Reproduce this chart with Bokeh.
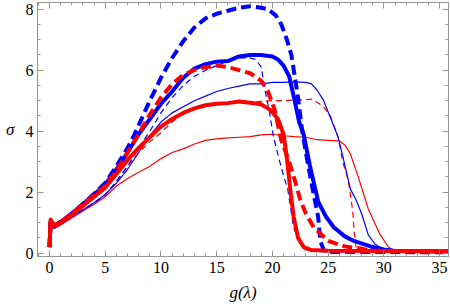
from bokeh.plotting import figure
from bokeh.models import LinearAxis, FixedTicker, Range1d
from bokeh.embed import file_html
from bokeh.resources import INLINE

# ---------------- data ----------------
x_major = [0, 5, 10, 15, 20, 25, 30, 35]
x_minor = list(range(-1, 37))
y_major = [0, 2, 4, 6, 8]
y_minor = [i * 0.5 for i in range(0, 17)]

# thick blue dashed
bd_thick_x = [0, 0.1, 0.4, 1, 2, 3, 4, 5, 6, 7, 7.5, 8, 9, 10, 11, 12, 13, 14, 15, 16, 17, 18, 19, 19.6,
              20.3, 20.8, 21.3, 21.7, 22.0, 22.3, 22.6, 23.0, 23.5, 24.1, 24.3, 24.6, 25, 36]
bd_thick_y = [0.2, 1.05, 0.9, 1.02, 1.3, 1.62, 1.95, 2.3, 2.85, 3.45, 3.8, 4.2, 5.0, 5.75, 6.4, 6.95, 7.4, 7.7,
              7.85, 7.95, 8.05, 8.1, 8.05, 8.0, 7.8, 7.5, 7.0, 6.5, 5.8, 5.1, 4.2, 3.3, 2.3, 1.2, 0.4, 0.1, 0.04, 0.03]

# thick blue solid
bs_thick_x = [0, 0.1, 0.4, 1, 2, 3, 4, 5, 6, 7, 8, 9, 10, 11, 12, 13, 14, 15, 16, 17, 18, 19, 20, 20.5, 21,
              21.5, 22, 22.4, 22.8, 23.4, 24.1, 24.8, 25.5, 26.5, 27.3, 28.8, 30, 31, 36]
bs_thick_y = [0.2, 1.05, 0.9, 1.02, 1.3, 1.6, 1.92, 2.25, 2.75, 3.3, 3.9, 4.4, 4.9, 5.3, 5.75, 6.05, 6.2, 6.28,
              6.3, 6.45, 6.5, 6.5, 6.45, 6.35, 6.15, 5.8, 5.0, 4.3, 3.9, 2.8, 1.7, 1.2, 0.85, 0.55, 0.4, 0.22,
              0.12, 0.07, 0.05]

# thin blue solid
bs_thin_x = [0, 0.1, 0.4, 1, 2, 3, 4, 5, 6, 7, 8, 9, 10, 11, 12, 13, 14, 15, 16, 17, 18, 19, 20, 21, 22, 23,
             23.5, 24, 24.6, 25.2, 25.9, 26.3, 27, 27.5, 28, 28.6, 29.2, 29.8, 30.5, 36]
bs_thin_y = [0.2, 1.0, 0.82, 0.95, 1.2, 1.42, 1.65, 1.92, 2.3, 2.75, 3.3, 3.85, 4.3, 4.6, 4.8, 5.0, 5.15, 5.3,
             5.4, 5.48, 5.55, 5.55, 5.6, 5.6, 5.62, 5.6, 5.55, 5.35, 5.0, 4.45, 3.8, 3.2, 2.1, 1.75, 1.3, 0.6,
             0.3, 0.15, 0.06, 0.04]

# thin blue dashed
bd_thin_x = [0, 0.1, 0.4, 1, 2, 3, 4, 5, 6, 7, 8, 9, 10, 11, 12, 13, 14, 15, 16, 17, 18, 18.5, 19, 19.3,
             19.7, 20.1, 20.8, 21.4, 21.9, 22.5, 23, 24, 36]
bd_thin_y = [0.2, 1.0, 0.82, 0.95, 1.2, 1.42, 1.65, 1.92, 2.35, 2.85, 3.45, 4.0, 4.6, 5.1, 5.5, 5.8, 6.0, 6.15,
             6.3, 6.4, 6.4, 6.35, 6.1, 5.4, 4.7, 3.8, 2.8, 2.05, 0.85, 0.3, 0.1, 0.05, 0.04]

# thick red dashed
rd_thick_x = [0, 0.1, 0.4, 1, 2, 3, 4, 5, 6, 7, 8, 9, 10, 11, 12, 13, 14, 15, 16, 17, 18, 19, 19.6, 20.2,
              20.8, 21.5, 22.0, 22.5, 23, 23.7, 25, 26.5, 28, 28.7, 36]
rd_thick_y = [0.2, 1.1, 0.9, 1.02, 1.3, 1.6, 1.9, 2.2, 2.7, 3.3, 3.9, 4.55, 5.1, 5.55, 5.85, 6.0, 6.1, 6.15,
              6.1, 6.0, 5.9, 5.65, 5.3, 4.7, 3.7, 3.0, 2.4, 1.75, 1.3, 0.85, 0.4, 0.22, 0.15, 0.08, 0.05]

# thick red solid
rs_thick_x = [0, 0.1, 0.4, 1, 2, 3, 4, 5, 6, 7, 8, 9, 10, 11, 12, 13, 14, 15, 16, 17, 18, 19, 19.8, 20.5,
              21, 21.3, 21.6, 21.9, 22.3, 22.8, 23.5, 25, 36]
rs_thick_y = [0.2, 1.1, 0.88, 1.0, 1.27, 1.55, 1.85, 2.15, 2.6, 3.05, 3.45, 3.8, 4.15, 4.4, 4.6, 4.75, 4.85,
              4.9, 4.92, 4.97, 4.93, 4.88, 4.7, 4.4, 3.9, 3.1, 2.1, 1.2, 0.5, 0.2, 0.1, 0.08, 0.07]

# thin red dashed
rd_thin_x = [0, 0.1, 0.4, 1, 2, 3, 4, 5, 6, 7, 8, 9, 10, 11, 12, 13, 14, 15, 16, 17, 18, 19, 20, 21, 22, 23,
             23.5, 24, 24.6, 25.2, 25.9, 26.3, 26.8, 27.2, 27.35, 27.5, 28, 36]
rd_thin_y = [0.2, 1.0, 0.82, 0.95, 1.2, 1.42, 1.65, 1.9, 2.35, 2.85, 3.3, 3.65, 3.95, 4.3, 4.6, 4.75, 4.85,
             4.9, 4.92, 4.95, 4.95, 4.98, 5.0, 5.0, 5.02, 5.03, 5.05, 4.95, 4.8, 4.5, 3.8, 3.0, 2.4, 1.4, 0.65,
             0.2, 0.08, 0.05]

# thin red solid
rs_thin_x = [0, 0.1, 0.4, 1, 2, 3, 4, 5, 6, 7, 8, 9, 10, 11, 12, 13, 14, 15, 16, 17, 18, 19, 20, 21, 22, 23,
             24, 25, 26, 26.5, 27, 27.7, 28.6, 29.6, 30.4, 31, 36]
rs_thin_y = [0.2, 0.98, 0.8, 0.92, 1.15, 1.38, 1.6, 1.85, 2.2, 2.45, 2.65, 2.85, 3.1, 3.3, 3.42, 3.58, 3.7,
             3.75, 3.78, 3.8, 3.82, 3.88, 3.9, 3.85, 3.82, 3.8, 3.72, 3.7, 3.68, 3.55, 3.25, 2.5, 1.45, 0.65,
             0.2, 0.06, 0.04]

BLUE = "#0000ff"
RED = "#ff0000"
FRAME = "#969696"
SERIF = "serif"

p = figure(width=450, height=304, x_range=Range1d(-1.08, 35.8), y_range=Range1d(-0.11, 8.22),
           output_backend="svg", toolbar_location=None,
           x_axis_location=None, y_axis_location=None,
           min_border_left=37, min_border_right=2, min_border_top=2, min_border_bottom=48)
p.xgrid.visible = False
p.ygrid.visible = False
p.outline_line_color = FRAME
p.background_fill_color = "white"
p.border_fill_color = "white"

xt = FixedTicker(ticks=x_major, minor_ticks=x_minor)
yt = FixedTicker(ticks=y_major, minor_ticks=y_minor)


def style(ax, labels):
    ax.axis_line_color = FRAME
    ax.major_tick_line_color = FRAME
    ax.minor_tick_line_color = FRAME
    ax.major_tick_in = 6
    ax.major_tick_out = 0
    ax.minor_tick_in = 3
    ax.minor_tick_out = 0
    if labels:
        ax.major_label_text_font = SERIF
        ax.major_label_text_font_size = "16px"
        ax.major_label_text_color = "black"
        ax.axis_label_text_font = SERIF
        ax.axis_label_text_font_style = "italic"
        ax.axis_label_text_font_size = "17px"
        ax.axis_label_text_color = "black"
    else:
        ax.major_label_standoff = 0


bx = LinearAxis(ticker=xt, axis_label="g(λ)")
style(bx, True)
bx.major_label_standoff = 5
bx.axis_label_standoff = 7
p.add_layout(bx, "below")

lx = LinearAxis(ticker=yt, axis_label="σ")
style(lx, True)
lx.major_label_standoff = 4
lx.axis_label_standoff = 8
lx.axis_label_orientation = "horizontal"
p.add_layout(lx, "left")

tx = LinearAxis(ticker=xt)
style(tx, False)
tx.major_label_overrides = {t: "" for t in x_major}
p.add_layout(tx, "above")

ry = LinearAxis(ticker=yt)
style(ry, False)
ry.major_label_overrides = {t: "" for t in y_major}
p.add_layout(ry, "right")

# thin lines first, thick on top
p.line(rs_thin_x, rs_thin_y, line_color=RED, line_width=1.2)
p.line(rd_thin_x, rd_thin_y, line_color=RED, line_width=1.2, line_dash="6 4")
p.line(bs_thin_x, bs_thin_y, line_color=BLUE, line_width=1.2)
p.line(bd_thin_x, bd_thin_y, line_color=BLUE, line_width=1.2, line_dash="6 4")
p.line(bd_thick_x, bd_thick_y, line_color=BLUE, line_width=4, line_dash="10 5")
p.line(bs_thick_x, bs_thick_y, line_color=BLUE, line_width=4, line_join="round")
p.line(rd_thick_x, rd_thick_y, line_color=RED, line_width=4, line_dash="10 5")
p.line(rs_thick_x, rs_thick_y, line_color=RED, line_width=4, line_join="round")

open("out.html", "w").write(file_html(p, INLINE))
